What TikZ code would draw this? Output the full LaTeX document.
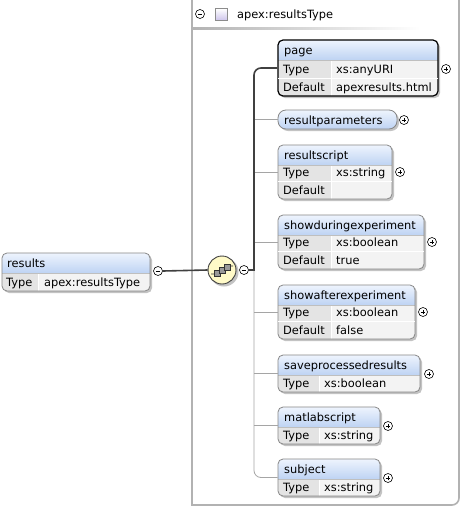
\documentclass[tikz,border=0pt]{standalone}
\usepackage{fontspec}
\setmainfont{DejaVu Sans}
\usetikzlibrary{fit}
\definecolor{hdrT}{RGB}{238,244,253}
\definecolor{hdrB}{RGB}{190,211,243}
\definecolor{lblc}{RGB}{228,228,228}
\definecolor{valc}{RGB}{243,243,243}
\definecolor{framec}{RGB}{135,135,135}
\definecolor{shadowc}{RGB}{195,195,195}
\definecolor{branchc}{RGB}{165,165,165}
\definecolor{outerc}{RGB}{178,178,178}
\definecolor{seqfill}{RGB}{255,250,200}
\definecolor{lav}{RGB}{205,195,235}
\tikzset{
  frame/.style={draw=framec, line width=0.8pt, rounded corners=5pt, inner sep=0pt},
  selframe/.style={draw=black, line width=1.2pt, rounded corners=5pt, inner sep=0pt},
  pillframe/.style={draw=framec, line width=0.8pt, rounded corners=8pt, inner sep=0pt},
  txt/.style={inner sep=0pt, anchor=west, text height=9pt, text depth=1pt, font=\fontsize{11.4}{13}\selectfont},
  pm/.style={circle, draw=black, line width=0.6pt, minimum size=9pt, inner sep=0pt, fill=white},
  pmminus/.style={pm, path picture={\draw[line width=0.7pt] ([xshift=-2.3pt]path picture bounding box.center) -- ([xshift=2.3pt]path picture bounding box.center);}},
  pmplus/.style={pm, path picture={\draw[line width=0.7pt] ([xshift=-2.3pt]path picture bounding box.center) -- ([xshift=2.3pt]path picture bounding box.center) ([yshift=-2.3pt]path picture bounding box.center) -- ([yshift=2.3pt]path picture bounding box.center);}},
  selline/.style={draw=black!75, line width=1.6pt},
  branch/.style={draw=branchc, line width=0.8pt},
}
% #1 frame style, #2 id, #3 left, #4 top, #5 right, #6 bottom, #7 column x
\newcommand\xelem[7][frame]{%
  \fill[shadowc, rounded corners=5pt] (#3+2,#4+2) rectangle (#5+2,#6+2);
  \begin{scope}
    \clip[rounded corners=5pt] (#3,#4) rectangle (#5,#6);
    \fill[lblc] (#3,#4+20) rectangle (#7,#6);
    \fill[valc] (#7,#4+20) rectangle (#5,#6);
    \shade[top color=hdrT, bottom color=hdrB] (#3,#4) rectangle (#5,#4+20);
    \draw[white, line width=1pt] (#7,#4+20.5) -- (#7,#6);
    \draw[black!25, line width=0.5pt] (#3,#4+20) -- (#5,#4+20);
  \end{scope}
  \node[#1, fit={(#3,#4) (#5,#6)}] (#2) {};
}
\newcommand\rowsep[3]{\draw[white, line width=1pt] (#1,#3) -- (#2,#3);}
\begin{document}
\begin{tikzpicture}[x=1pt, y=-1pt]
\useasboundingbox (0,0) rectangle (462,509);
\fill[white] (0,0) rectangle (462,509);
% outer type box
\draw[outerc, line width=1.6pt] (192,-5) -- (192,505) -- (452,505) arc[start angle=90, end angle=0, radius=7] -- (459,-5);
\node[pmminus] (typeminus) at (200,14) {};
\shade[top color=white, bottom color=lav, draw=black!45, line width=0.5pt] (215,8.5) rectangle (227,20.5);
\node[txt] (typename) at (237,14) {apex:resultsType};
\shade[left color=black!30, right color=white] (193,27.5) rectangle (420,29.5);

% results element
\xelem{results}{2}{253}{150}{291}{38}
\node[txt] (results-t) at (7,263) {results};
\node[txt] (results-k) at (6,282) {Type};
\node[txt] (results-v) at (44,282) {apex:resultsType};
\node[pmminus] (resultsminus) at (158,271) {};

% compositor
\fill[shadowc] (224,272) circle[radius=14.5];
\node[circle, draw=black!75, line width=0.9pt, fill=seqfill, minimum size=28pt, inner sep=0pt] (seq) at (222,270) {};
\draw[black!80, line width=0.6pt] (211,274) -- (217,274) -- (227,266) -- (233,266);
\foreach \dx/\dy in {-5/3, 0/0, 5/-3}{
  \filldraw[fill=black!40, draw=black!80, line width=0.5pt] (222+\dx-3,270+\dy-3) rectangle (222+\dx+3,270+\dy+3);
}
\node[pmminus] (seqminus) at (244,270) {};
\coordinate (trunk) at (254,270);

% page
\xelem[selframe]{page}{278}{40}{438}{96}{331}
\rowsep{278}{438}{78}
\node[txt] (page-t) at (284,50) {page};
\node[txt] (page-k1) at (283,69.5) {Type};
\node[txt] (page-v1) at (336,69.5) {xs:anyURI};
\node[txt] (page-k2) at (283,87.5) {Default};
\node[txt] (page-v2) at (336,87.5) {apexresults.html};
\node[pmplus] (page-p) at (446,69) {};

% resultparameters
\fill[shadowc, rounded corners=8pt] (280,112) rectangle (399,131);
\shade[top color=hdrT, bottom color=hdrB, rounded corners=8pt] (278,110) rectangle (397,129);
\node[pillframe, fit={(278,110) (397,129)}] (resultparameters) {};
\node[txt] (rp-t) at (284,120) {resultparameters};
\node[pmplus] (rp-p) at (404,120) {};

% resultscript
\xelem{resultscript}{278}{145}{392}{199}{331}
\rowsep{278}{392}{181}
\node[txt] (rs-t) at (284,155) {resultscript};
\node[txt] (rs-k1) at (283,172.5) {Type};
\node[txt] (rs-v1) at (336,172.5) {xs:string};
\node[txt] (rs-k2) at (283,190.5) {Default};
\node[pmplus] (rs-p) at (400,172) {};

% showduringexperiment
\xelem{showduring}{278}{215}{424}{269}{331}
\rowsep{278}{424}{251}
\node[txt] (sd-t) at (284,225) {showduringexperiment};
\node[txt] (sd-k1) at (283,242.5) {Type};
\node[txt] (sd-v1) at (336,242.5) {xs:boolean};
\node[txt] (sd-k2) at (283,260.5) {Default};
\node[txt] (sd-v2) at (336,260.5) {true};
\node[pmplus] (sd-p) at (432,242) {};

% showafterexperiment
\xelem{showafter}{278}{285}{415}{339}{331}
\rowsep{278}{415}{321}
\node[txt] (sa-t) at (284,295) {showafterexperiment};
\node[txt] (sa-k1) at (283,312.5) {Type};
\node[txt] (sa-v1) at (336,312.5) {xs:boolean};
\node[txt] (sa-k2) at (283,330.5) {Default};
\node[txt] (sa-v2) at (336,330.5) {false};
\node[pmplus] (sa-p) at (423,312) {};

% saveprocessedresults
\xelem{saveprocessed}{278}{355}{420}{392}{319}
\node[txt] (sp-t) at (284,365) {saveprocessedresults};
\node[txt] (sp-k1) at (283,383.5) {Type};
\node[txt] (sp-v1) at (324,383.5) {xs:boolean};
\node[pmplus] (sp-p) at (429,374) {};

% matlabscript
\xelem{matlabscript}{278}{407}{380}{444}{319}
\node[txt] (ms-t) at (284,417) {matlabscript};
\node[txt] (ms-k1) at (283,435.5) {Type};
\node[txt] (ms-v1) at (324,435.5) {xs:string};
\node[pmplus] (ms-p) at (388,426) {};

% subject
\xelem{subject}{278}{459}{380}{496}{319}
\node[txt] (sj-t) at (284,469) {subject};
\node[txt] (sj-k1) at (283,487.5) {Type};
\node[txt] (sj-v1) at (324,487.5) {xs:string};
\node[pmplus] (sj-p) at (388,478) {};

% connectors
\draw[selline] (resultsminus.east) -- (seq.west);
\draw[branch, rounded corners=7pt] (trunk) |- (subject.west);
\foreach \n in {resultparameters, resultscript, showduring, showafter, saveprocessed, matlabscript}{
  \draw[branch] (trunk |- \n.west) -- (\n.west);
}
\draw[selline] (seqminus.east) -- ([xshift=0.8pt]trunk);
\draw[selline, rounded corners=7pt] (trunk) |- (page.west);
\end{tikzpicture}
\end{document}
